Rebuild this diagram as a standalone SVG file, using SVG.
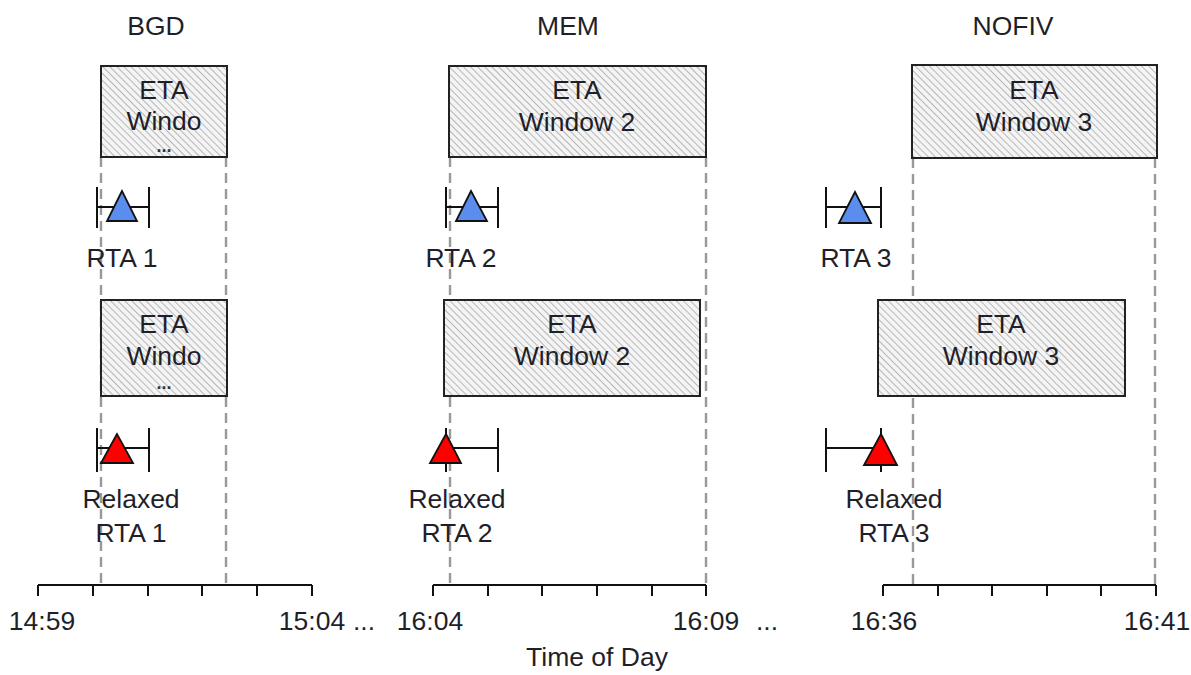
<svg xmlns="http://www.w3.org/2000/svg" width="1191" height="675" viewBox="0 0 1191 675">
<defs>
<pattern id="hatch" patternUnits="userSpaceOnUse" width="5" height="5" patternTransform="rotate(-45)">
<rect width="5" height="5" fill="#f4f4f4"/>
<line x1="0" y1="0" x2="0" y2="5" stroke="#a8a8a8" stroke-width="1.6"/>
</pattern>
</defs>
<style>
text{font-family:"Liberation Sans",Arial,sans-serif;font-size:26.5px;fill:#1f1f2a;text-anchor:middle}
.dots{font-size:18px;font-weight:bold;fill:#334}
.box{fill:url(#hatch);stroke:#222;stroke-width:2}
.dash{stroke:#999;stroke-width:2.4;stroke-dasharray:10 6;fill:none}
.axis{stroke:#111;stroke-width:2;fill:none}
.bar{stroke:#111;stroke-width:2;fill:none}
.blue{fill:#5b8def;stroke:#111;stroke-width:1.8}
.red{fill:#ff0000;stroke:#111;stroke-width:1.8}
</style>
<rect width="1191" height="675" fill="#ffffff"/>

<g id="titles">
<text x="156" y="35">BGD</text>
<text x="568" y="35">MEM</text>
<text x="1013" y="35">NOFIV</text>
</g>

<g id="connectors">
<line class="dash" x1="101" y1="157" x2="101" y2="585"/>
<line class="dash" x1="226" y1="157" x2="226" y2="585"/>
<line class="dash" x1="450" y1="157" x2="450" y2="585"/>
<line class="dash" x1="706" y1="157" x2="706" y2="585"/>
<line class="dash" x1="913" y1="158" x2="913" y2="585"/>
<line class="dash" x1="1155" y1="158" x2="1155" y2="585"/>
</g>

<g id="eta1">
<rect class="box" x="101" y="66" width="126" height="91"/>
<text x="164" y="99">ETA</text>
<text x="164" y="130">Windo</text>
<text class="dots" x="164" y="152">...</text>
</g>
<g id="eta1r">
<rect class="box" x="101" y="300" width="126" height="96"/>
<text x="164" y="333">ETA</text>
<text x="164" y="365">Windo</text>
<text class="dots" x="164" y="389">...</text>
</g>
<g id="eta2">
<rect class="box" x="449" y="66" width="257" height="91"/>
<text x="577" y="99">ETA</text>
<text x="577" y="131">Window 2</text>
</g>
<g id="eta2r">
<rect class="box" x="444" y="300" width="256" height="96"/>
<text x="572" y="333">ETA</text>
<text x="572" y="365">Window 2</text>
</g>
<g id="eta3">
<rect class="box" x="912" y="65" width="245" height="93"/>
<text x="1034" y="99">ETA</text>
<text x="1034" y="131">Window 3</text>
</g>
<g id="eta3r">
<rect class="box" x="878" y="300" width="247" height="96"/>
<text x="1001" y="333">ETA</text>
<text x="1001" y="365">Window 3</text>
</g>

<g id="rta1">
<path class="bar" d="M97 187V228M149 187V228M97 207H149"/>
<polygon class="blue" points="122,191 107,221 137,221"/>
<text x="122" y="267">RTA 1</text>
</g>
<g id="rta2">
<path class="bar" d="M446 187V228M498 187V228M446 207H498"/>
<polygon class="blue" points="471,191 456,221 487,221"/>
<text x="461" y="267">RTA 2</text>
</g>
<g id="rta3">
<path class="bar" d="M826 187V228M881 187V228M826 207H881"/>
<polygon class="blue" points="855,192 839,223 871,223"/>
<text x="856" y="267">RTA 3</text>
</g>

<g id="rrta1">
<path class="bar" d="M97 428V472M149 428V472M97 448H149"/>
<polygon class="red" points="117,434 101,463 133,463"/>
<text x="131" y="508">Relaxed</text>
<text x="131" y="542">RTA 1</text>
</g>
<g id="rrta2">
<path class="bar" d="M446 428V472M498 428V472M446 448H498"/>
<polygon class="red" points="446,434 430,463 461,463"/>
<text x="457" y="508">Relaxed</text>
<text x="457" y="542">RTA 2</text>
</g>
<g id="rrta3">
<path class="bar" d="M826 428V472M881 428V472M826 448H881"/>
<polygon class="red" points="881,434 864,465 897,465"/>
<text x="894" y="508">Relaxed</text>
<text x="894" y="542">RTA 3</text>
</g>

<g id="axis1">
<path class="axis" d="M38 585H312M38 585V596M93 585V596M148 585V596M202 585V596M257 585V596M312 585V596"/>
<text x="42" y="630">14:59</text>
<text x="312" y="630">15:04</text>
<text x="364" y="630">...</text>
</g>
<g id="axis2">
<path class="axis" d="M433 585H706M433 585V596M488 585V596M542 585V596M597 585V596M652 585V596M706 585V596"/>
<text x="430" y="630">16:04</text>
<text x="706" y="630">16:09</text>
<text x="767" y="630">...</text>
</g>
<g id="axis3">
<path class="axis" d="M883 585H1156M883 585V596M938 585V596M992 585V596M1047 585V596M1101 585V596M1156 585V596"/>
<text x="884" y="630">16:36</text>
<text x="1157" y="630">16:41</text>
</g>
<g id="xlabel">
<text x="597" y="666">Time of Day</text>
</g>
</svg>
